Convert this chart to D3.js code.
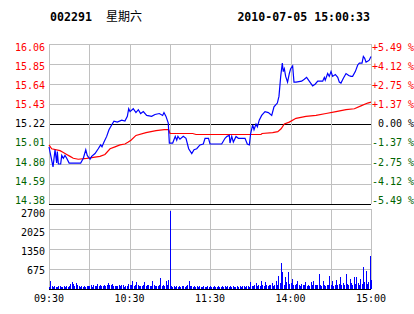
<!DOCTYPE html>
<html>
<head>
<meta charset="utf-8">
<script src="https://cdn.jsdelivr.net/npm/d3@7"></script>
<style>
  body { margin: 0; background: #fff; }
  svg text { font-family: "DejaVu Sans Mono", monospace; font-size: 10px; }
</style>
</head>
<body>
<svg id="chart"></svg>
<script>
const width = 414;
const height = 314;

const code = "002291";
const weekday = "星期六";
const stamp = "2010-07-05 15:00:33";
const prevClose = 15.22;

const priceTicks = [16.06, 15.85, 15.64, 15.43, 15.22, 15.01, 14.80, 14.59, 14.38];
const pctLabels = ["+5.49 %", "+4.12 %", "+2.75 %", "+1.37 %", " 0.00 %", "-1.37 %", "-2.75 %", "-4.12 %", "-5.49 %"];
const volTicks = [2700, 2025, 1350, 675];
const gridMinutes = [0, 30, 60, 90, 120, 150, 180, 210, 240];
const timeLabels = [[0, "09:30"], [60, "10:30"], [120, "11:30"], [180, "14:00"], [240, "15:00"]];

// [minute, price]
const price = [
  [0, 14.98], [3, 14.77], [4.5, 14.95], [5.7, 14.81], [6.2, 14.93], [7, 14.80], [8.7, 14.80], [9.5, 14.89],
  [10.7, 14.86], [11.9, 14.89], [13.2, 14.86], [15, 14.81], [23.6, 14.81], [25.6, 14.86], [27.4, 14.95],
  [28.5, 14.89], [30.6, 14.85], [31.8, 14.88], [34.3, 14.91], [36.7, 14.96], [38.5, 15.00], [39.5, 14.98],
  [41, 15.03], [43, 15.09], [44.7, 15.16], [46.7, 15.21], [48.4, 15.25], [50.9, 15.24], [54.2, 15.26],
  [56.6, 15.25], [58.4, 15.30], [59.4, 15.38], [60.4, 15.35], [62.8, 15.38], [64.8, 15.34], [66.6, 15.37],
  [68.3, 15.33], [70.3, 15.35], [72.8, 15.31], [76.5, 15.30], [79, 15.32], [82.2, 15.33], [84.7, 15.31],
  [85.7, 15.34], [87.2, 15.30], [88.9, 15.23], [89.7, 15.02], [92.2, 15.02], [94.1, 15.09], [95.2, 15.05],
  [96.1, 15.09], [97.6, 15.06], [100.1, 15.09], [102.1, 15.07], [104.1, 14.96], [106.4, 14.91], [108.1, 14.95],
  [110.1, 14.96], [112.5, 15.00], [115, 15.01], [116.3, 15.07], [118.9, 15.07], [120, 15.01], [128.7, 15.01],
  [131.2, 15.07], [132.7, 15.09], [134.4, 15.10], [134.9, 15.02], [136.2, 15.09], [137.4, 15.03], [139.4, 15.09],
  [141.1, 15.07], [146.1, 15.07], [147.8, 15.01], [149.3, 15.00], [150.3, 15.12], [151.8, 15.21], [152.8, 15.16],
  [154.3, 15.22], [155.3, 15.19], [156.7, 15.26], [158.5, 15.31], [161, 15.35], [163.5, 15.34], [166, 15.31],
  [167.7, 15.40], [170.2, 15.44], [171.4, 15.51], [172.7, 15.72], [173.9, 15.86], [174.6, 15.77], [175.4, 15.80],
  [176.4, 15.72], [177.8, 15.66], [179.1, 15.75], [180.1, 15.80], [181.6, 15.83], [182.6, 15.66], [184.1, 15.66],
  [188.3, 15.67], [190.3, 15.69], [192, 15.71], [194.5, 15.66], [196.5, 15.62], [198.5, 15.64], [200.3, 15.67],
  [204, 15.67], [205.2, 15.71], [205.9, 15.68], [207.7, 15.75], [208.9, 15.72], [210.2, 15.77], [211.4, 15.72],
  [213.4, 15.74], [215.2, 15.71], [216.4, 15.66], [217.6, 15.65], [219.4, 15.70], [221.4, 15.75], [223.4, 15.73],
  [225.1, 15.72], [226.3, 15.72], [228.3, 15.77], [230.1, 15.84], [231.3, 15.86], [233.3, 15.86], [234.3, 15.93],
  [235.3, 15.91], [236.3, 15.87], [237.5, 15.88], [238.7, 15.89], [240, 15.93]
];

const avgPrice = [
  [0, 15.00], [2, 14.96], [8.2, 14.94], [10.7, 14.92], [13.2, 14.90], [15.7, 14.88], [18.1, 14.86], [21.8, 14.85],
  [28.1, 14.86], [33, 14.87], [38, 14.88], [41.7, 14.90], [45.5, 14.96], [49.2, 14.98], [52.9, 15.00],
  [56.6, 15.01], [59.1, 15.03], [61.1, 15.05], [64.8, 15.10], [72.3, 15.13], [79.8, 15.15], [85.9, 15.16],
  [89.2, 15.16], [90.2, 15.12], [107.1, 15.12], [109.6, 15.11], [158, 15.11], [158.8, 15.12], [166.7, 15.13],
  [170.5, 15.14], [173, 15.17], [175.4, 15.22], [179.1, 15.24], [184.1, 15.28], [191.5, 15.30], [199, 15.31],
  [206.5, 15.33], [213.9, 15.35], [221.4, 15.37], [227.6, 15.38], [232.5, 15.41], [237.5, 15.44], [240, 15.45]
];

// volume per minute, 09:30 .. 15:00
const volume = [
  60, 270, 90, 70, 100, 80, 70, 90, 100, 80,
  80, 90, 70, 100, 80, 110, 170, 230, 185, 90,
  200, 120, 90, 80, 100, 70, 90, 80, 100, 90,
  100, 120, 80, 140, 90, 110, 160, 100, 130, 90,
  110, 130, 90, 150, 200, 120, 140, 180, 110, 100,
  90, 110, 130, 100, 150, 120, 80, 100, 110, 160,
  120, 140, 260, 110, 150, 240, 130, 100, 110, 90,
  120, 250, 100, 130, 150, 90, 110, 285, 120, 100,
  110, 90, 130, 375, 100, 150, 90, 260, 120, 310,
  2620, 100, 70, 90, 80, 110, 70, 90, 80, 100,
  90, 80, 100, 120, 285, 90, 110, 80, 100, 70,
  90, 70, 110, 80, 60, 90, 70, 80, 100, 70, 90,
  80, 70, 100, 80, 60, 90, 80, 70, 90,
  80, 100, 70, 90, 80, 100, 60, 90, 80, 70,
  90, 80, 100, 70, 90, 110, 80, 90, 100, 80,
  230, 100, 90, 120, 200, 110, 140, 90, 260, 120,
  110, 230, 130, 90, 150, 120, 200, 100, 140, 285,
  150, 455, 200, 880, 570, 150, 420, 250, 570, 180,
  200, 340, 150, 120, 180, 285, 130, 100, 160, 140,
  120, 230, 100, 150, 110, 230, 130, 285, 150, 120,
  140, 490, 120, 100, 285, 130, 110, 150, 120, 455,
  130, 285, 110, 150, 310, 120, 180, 420, 140, 200,
  150, 490, 180, 130, 340, 200, 150, 400, 170, 420,
  200, 150, 340, 180, 740, 230, 595, 160, 250, 1100, 300
];

const red = "#ff0000";
const green = "#006400";
const blue = "#0000ff";
const gray = "#c0c0c0";

const svg = d3.select("#chart").attr("width", width).attr("height", height);

const x = d3.scaleLinear().domain([0, 240]).range([49, 371]);
const y = d3.scaleLinear().domain([14.38, 16.06]).range([204, 44]);
const yVol = d3.scaleLinear().domain([0, 2700]).range([289, 209]);
const px = (v) => Math.round(v) + 0.5;

// title
svg.append("text").attr("x", 50).attr("y", 21)
  .style("font-weight", "bold").style("font-size", "11.6px").text(code);
svg.append("text").attr("x", 106).attr("y", 21)
  .style("font-family", "'Noto Sans CJK SC'").style("font-size", "12px").text(weekday);
svg.append("text").attr("x", 370).attr("y", 21).attr("text-anchor", "end")
  .style("font-weight", "bold").style("font-size", "11.6px").text(stamp);

// price panel grid
const grid = svg.append("g").attr("shape-rendering", "crispEdges");
grid.selectAll(".hp").data(priceTicks).enter().append("line")
  .attr("x1", x(0)).attr("x2", x(240))
  .attr("y1", (d) => px(y(d))).attr("y2", (d) => px(y(d)))
  .attr("stroke", (d) => (d === prevClose || d === priceTicks[priceTicks.length - 1] ? "#000" : gray));
grid.selectAll(".vp").data(gridMinutes).enter().append("line")
  .attr("x1", (d) => px(x(d))).attr("x2", (d) => px(x(d)))
  .attr("y1", y(16.06)).attr("y2", y(14.38))
  .attr("stroke", gray);

// volume panel grid
grid.selectAll(".hv").data([0].concat(volTicks)).enter().append("line")
  .attr("x1", x(0)).attr("x2", x(240))
  .attr("y1", (d) => px(yVol(d))).attr("y2", (d) => px(yVol(d)))
  .attr("stroke", (d) => (d === 0 ? "#000" : gray));
grid.selectAll(".vv").data(gridMinutes).enter().append("line")
  .attr("x1", (d) => px(x(d))).attr("x2", (d) => px(x(d)))
  .attr("y1", yVol(2700)).attr("y2", yVol(0))
  .attr("stroke", gray);

// labels spread a little tighter than the grid, as in the original
const priceLabelY = (d) => 47 + (y(d) - 44) * 0.958 + 3.6;
svg.selectAll(".pl").data(priceTicks).enter().append("text")
  .attr("x", 45).attr("y", priceLabelY).attr("text-anchor", "end")
  .attr("fill", (d) => (d > prevClose ? red : d < prevClose ? green : "#000"))
  .text((d) => d.toFixed(2));
svg.selectAll(".rl").data(pctLabels).enter().append("text")
  .attr("x", 372).attr("y", (d, i) => priceLabelY(priceTicks[i]))
  .attr("xml:space", "preserve").style("white-space", "pre")
  .attr("fill", (d) => (d[0] === "+" ? red : d[0] === "-" ? green : "#000"))
  .text((d) => d);
svg.selectAll(".vl").data(volTicks).enter().append("text")
  .attr("x", 45).attr("text-anchor", "end")
  .attr("y", (d) => 213.7 + (yVol(d) - 209) * 0.94 + 3.6)
  .text((d) => d);
svg.selectAll(".tl").data(timeLabels).enter().append("text")
  .attr("x", (d) => x(d[0])).attr("y", 302).attr("text-anchor", "middle")
  .text((d) => d[1]);

// volume bars
svg.append("g").attr("shape-rendering", "crispEdges")
  .selectAll("rect").data(volume).enter().append("rect")
  .attr("x", (d, i) => Math.round(x(i)))
  .attr("width", 1)
  .attr("y", (d) => Math.round(yVol(d)))
  .attr("height", (d) => Math.round(yVol(0)) - Math.round(yVol(d)))
  .attr("fill", blue);

// lines
const line = d3.line().x((d) => x(d[0])).y((d) => y(d[1]));
svg.append("path").datum(avgPrice).attr("d", line)
  .attr("fill", "none").attr("stroke", red).attr("stroke-width", 1.2);
svg.append("path").datum(price).attr("d", line)
  .attr("fill", "none").attr("stroke", blue).attr("stroke-width", 1.2);
</script>
</body>
</html>
